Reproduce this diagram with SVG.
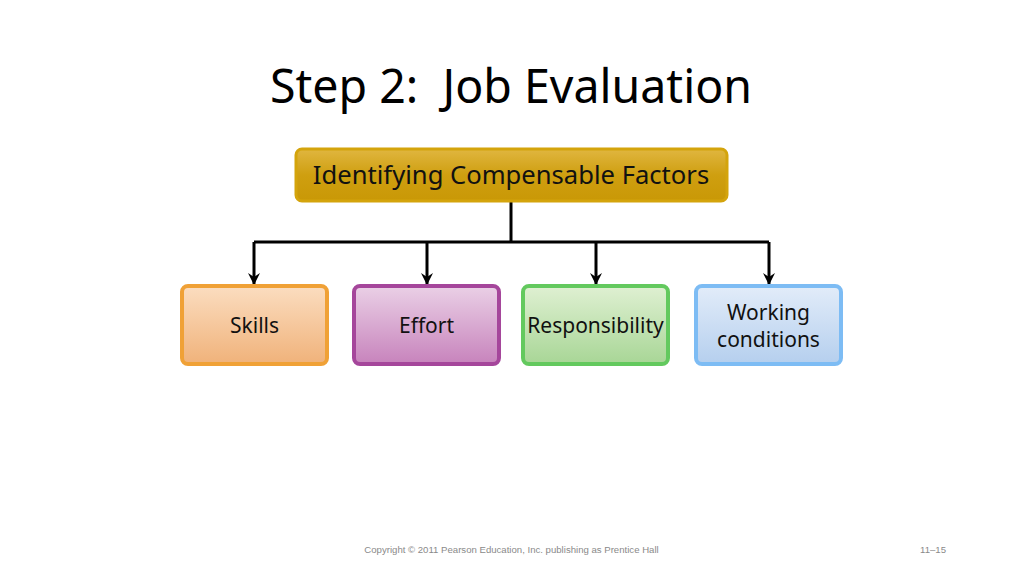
<svg xmlns="http://www.w3.org/2000/svg" width="1024" height="575" viewBox="0 0 1024 575">
<defs>
<linearGradient id="gGold" x1="0" y1="0" x2="0" y2="1"><stop offset="0" stop-color="#e0b640"/><stop offset="0.5" stop-color="#cf9f10"/><stop offset="1" stop-color="#c99806"/></linearGradient>
<linearGradient id="gOr" x1="0" y1="0" x2="0" y2="1"><stop offset="0" stop-color="#fbddc0"/><stop offset="1" stop-color="#f0b27a"/></linearGradient>
<linearGradient id="gPu" x1="0" y1="0" x2="0" y2="1"><stop offset="0" stop-color="#ead0e6"/><stop offset="1" stop-color="#c783bc"/></linearGradient>
<linearGradient id="gGr" x1="0" y1="0" x2="0" y2="1"><stop offset="0" stop-color="#dff0d2"/><stop offset="1" stop-color="#a8d696"/></linearGradient>
<linearGradient id="gBl" x1="0" y1="0" x2="0" y2="1"><stop offset="0" stop-color="#e2ecf9"/><stop offset="1" stop-color="#b5cfee"/></linearGradient>
<marker id="arr" viewBox="0 0 12 12" refX="11" refY="6" markerWidth="12" markerHeight="12" markerUnits="userSpaceOnUse" orient="auto">
<path d="M0,0 L12,6 L0,12 L4,6 Z" fill="#000"/>
</marker>
</defs>
<style>
text{font-family:"Noto Sans","Open Sans","DejaVu Sans",sans-serif;fill:#111;text-anchor:middle}
.t{font-size:21px}
.conn{fill:none;stroke:#000;stroke-width:3}
</style>
<rect width="1024" height="575" fill="#fff"/>
<text x="511" y="103" xml:space="preserve" style="font-size:46.5px;fill:#000">Step 2:  Job Evaluation</text>
<g id="connectors">
<path class="conn" d="M511,201 V242"/>
<path class="conn" d="M254,242 H769"/>
<path class="conn" d="M254,242 V284" marker-end="url(#arr)"/>
<path class="conn" d="M427,242 V284" marker-end="url(#arr)"/>
<path class="conn" d="M596,242 V284" marker-end="url(#arr)"/>
<path class="conn" d="M769,242 V284" marker-end="url(#arr)"/>
</g>
<g id="top">
<rect x="296" y="149" width="431" height="52" rx="6" fill="url(#gGold)" stroke="#d4a40c" stroke-width="3"/>
<text x="511" y="184" style="font-size:25.6px">Identifying Compensable Factors</text>
</g>
<g id="skills">
<rect x="182" y="286" width="145" height="78" rx="6" fill="url(#gOr)" stroke="#f0a136" stroke-width="4"/>
<text class="t" x="254.5" y="333">Skills</text>
</g>
<g id="effort">
<rect x="354" y="286" width="145" height="78" rx="6" fill="url(#gPu)" stroke="#a5469b" stroke-width="4"/>
<text class="t" x="426.5" y="333">Effort</text>
</g>
<g id="responsibility">
<rect x="523" y="286" width="145" height="78" rx="6" fill="url(#gGr)" stroke="#63c95e" stroke-width="4"/>
<text class="t" x="595.5" y="333">Responsibility</text>
</g>
<g id="working">
<rect x="696" y="286" width="145" height="78" rx="6" fill="url(#gBl)" stroke="#7dbcf4" stroke-width="4"/>
<text class="t" x="768.5" y="320">Working</text>
<text class="t" x="768.5" y="347">conditions</text>
</g>
<text x="511.5" y="553" style="font-family:'Liberation Sans',Arial,sans-serif;font-size:9.6px;fill:#8a8a8a">Copyright © 2011 Pearson Education, Inc. publishing as Prentice Hall</text>
<text x="933" y="553" style="font-family:'Liberation Sans',Arial,sans-serif;font-size:9.6px;fill:#8a8a8a">11–15</text>
</svg>
